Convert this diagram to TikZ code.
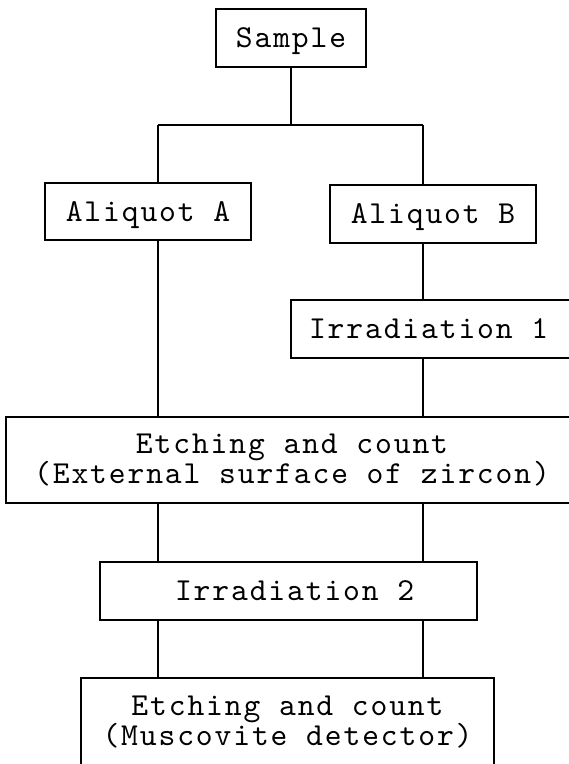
\documentclass[tikz,border=0pt]{standalone}
\usepackage{fontspec}
\setmainfont{lmmono10-regular.otf}[LetterSpace=5.9]
\newcommand\boxfont{\fontsize{32pt}{29pt}\selectfont}
\begin{document}
\begin{tikzpicture}[x=1pt, y=-1pt, line width=1.5pt,
  box/.style={draw, rectangle, inner sep=0pt, font=\boxfont},
  oneline/.style={box, text height=19.5pt, text depth=0pt},
  twoline/.style={box, align=center},
  lbl/.style={inner sep=0pt, font=\boxfont, text height=19.5pt, text depth=0pt}]

\useasboundingbox (0,0) rectangle (569,764);
\clip (0,0) rectangle (569,764);

% process steps
\node[oneline, minimum width=150pt, minimum height=58pt] (sample) at (291,38) {Sample};
\node[oneline, minimum width=206pt, minimum height=57pt] (alqA) at (148,211.5) {Aliquot A};
\node[oneline, minimum width=206pt, minimum height=58pt] (alqB) at (433,214) {Aliquot B};
\node[box, minimum width=309pt, minimum height=58pt] (irr1) at (445.5,329) {};
\node[lbl, anchor=west] (irr1txt) at ([xshift=18pt]irr1.west) {Irradiation 1};
\node[twoline, minimum width=572pt, minimum height=86pt] (etch1) at (292,460)
  {Etching and count\\(External surface of zircon)};
\node[box, minimum width=377pt, minimum height=58pt] (irr2) at (288.5,591) {};
\node[lbl, anchor=west] (irr2txt) at ([xshift=75pt]irr2.west) {Irradiation 2};
\node[twoline, minimum width=413pt, minimum height=88pt] (etch2) at (287.5,722)
  {Etching and count\\(Muscovite detector)};

% the two sample paths
\coordinate (colL) at (158,0);
\coordinate (colR) at (423,0);
\coordinate (split) at (291,125);

\draw (sample.south) -- (split);
\draw (split -| colL) -- (split -| colR);
\draw (split -| colL) -- (alqA.north -| colL);
\draw (split -| colR) -- (alqB.north -| colR);
\draw (alqA.south -| colL) -- (etch1.north -| colL);
\draw (alqB.south -| colR) -- (irr1.north -| colR);
\draw (irr1.south -| colR) -- (etch1.north -| colR);
\draw (etch1.south -| colL) -- (irr2.north -| colL);
\draw (etch1.south -| colR) -- (irr2.north -| colR);
\draw (irr2.south -| colL) -- (etch2.north -| colL);
\draw (irr2.south -| colR) -- (etch2.north -| colR);
\end{tikzpicture}
\end{document}
